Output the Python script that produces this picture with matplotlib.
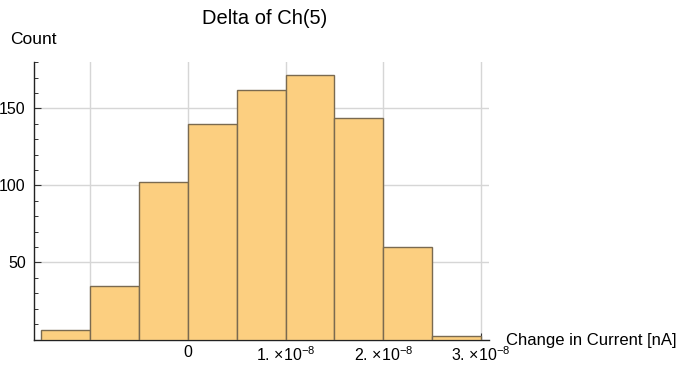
import matplotlib.pyplot as plt
import numpy as np

plt.rcParams['font.family'] = ['Liberation Sans', 'DejaVu Sans']
plt.rcParams['mathtext.fontset'] = 'custom'
plt.rcParams['mathtext.rm'] = 'Liberation Sans'
plt.rcParams['mathtext.default'] = 'regular'

# histogram bins (edges in A) and counts
bin_edges = [-1.5e-8, -1.0e-8, -0.5e-8, 0.0, 0.5e-8, 1.0e-8, 1.5e-8, 2.0e-8, 2.5e-8, 3.0e-8]
counts = [6, 35, 102, 140, 162, 172, 144, 60, 2]

x_ticks = [-1e-8, 0, 1e-8, 2e-8, 3e-8]
x_labels = ['', '0', '1. \u00d710$^{-8}$', '2. \u00d710$^{-8}$', '3. \u00d710$^{-8}$']
y_ticks = [50, 100, 150]

fig = plt.figure(figsize=(6.79, 3.70), dpi=100)
ax = fig.add_axes([34/679, 30.5/370, (489-34)/679, (339.5-61.5)/370])

edges = np.array(bin_edges)
ax.bar(edges[:-1], counts, width=np.diff(edges), align='edge',
       color='#fccf80', edgecolor='#7a6a50', linewidth=1.0, zorder=3)

ax.set_xlim(-1.571e-8, 3.08e-8)
ax.set_ylim(0, 180.5)

ax.set_xticks(x_ticks)
ax.set_xticklabels(x_labels, fontsize=11.5)
ax.set_xticks(np.arange(-1.4e-8, 3.01e-8, 0.2e-8), minor=True)
ax.set_yticks(y_ticks)
ax.set_yticklabels([str(v) for v in y_ticks], fontsize=11.5)
ax.set_yticks(np.arange(10, 181, 10), minor=True)

ax.tick_params(direction='in', length=5, width=0.8, color='#333333', pad=4)
ax.tick_params(axis='y', pad=6)
ax.tick_params(which='minor', direction='in', length=3, width=0.7, color='#333333')

ax.grid(True, which='major', color='#d6d6d6', linewidth=1.0, zorder=0)

for s in ['top', 'right']:
    ax.spines[s].set_visible(False)
for s in ['left', 'bottom']:
    ax.spines[s].set_linewidth(1.0)
    ax.spines[s].set_color('#222222')

fig.text(265/679, 1 - 18/370, 'Delta of Ch(5)', ha='center', va='center', fontsize=14.5)
fig.text(10/679, 1 - 40/370, 'Count', ha='left', va='center', fontsize=12.5)
fig.text(506/679, 1 - 341/370, 'Change in Current [nA]', ha='left', va='center', fontsize=12)

fig.savefig('out.png', dpi=100)
